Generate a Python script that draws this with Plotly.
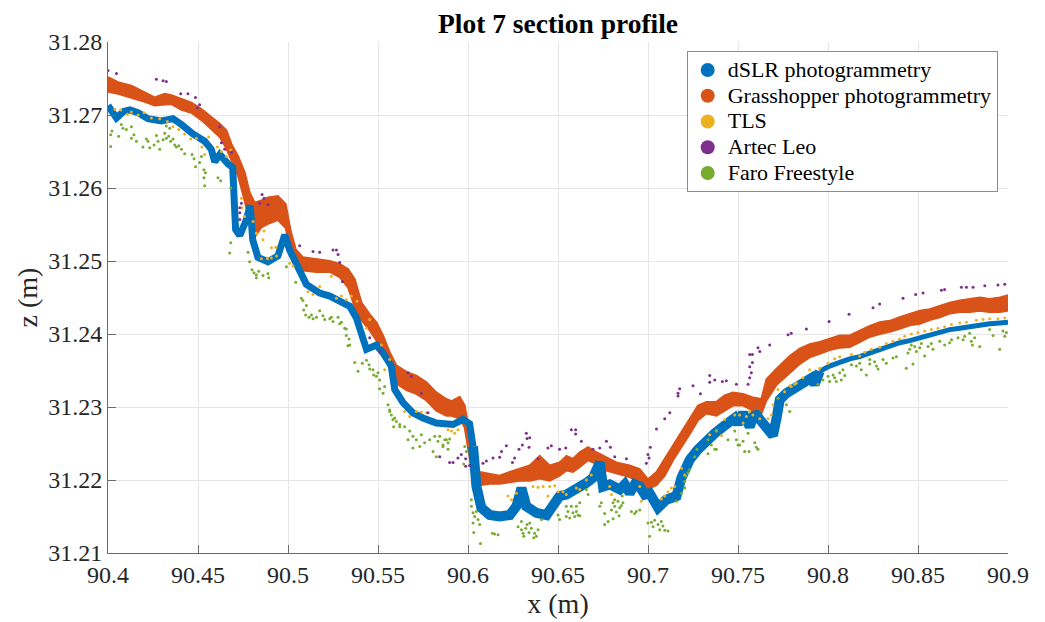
import plotly.graph_objects as go

# ---------------- data (x in m, z in m) ----------------
# dSLR photogrammetry: centre of the dense band
dslr = [
    (90.4000, 31.2713), (90.4047, 31.2696), (90.4087, 31.2705), (90.4121, 31.2707),
    (90.4167, 31.2703), (90.4222, 31.2695), (90.4297, 31.2692), (90.4361, 31.2695),
    (90.4408, 31.2687), (90.4472, 31.2674), (90.4537, 31.2664), (90.4574, 31.2653),
    (90.4593, 31.2636), (90.4621, 31.2646), (90.4667, 31.2633), (90.4693, 31.2628),
    (90.4701, 31.2584), (90.4709, 31.2543), (90.4732, 31.2535), (90.4765, 31.2554),
    (90.4790, 31.2576), (90.4804, 31.2529), (90.4833, 31.2505), (90.4889, 31.2499),
    (90.4944, 31.2507), (90.4982, 31.2536), (90.5009, 31.2515), (90.5065, 31.2488),
    (90.5102, 31.2468), (90.5176, 31.2456), (90.5232, 31.2452), (90.5287, 31.2445),
    (90.5343, 31.2438), (90.5380, 31.2422), (90.5417, 31.2388), (90.5436, 31.2379),
    (90.5491, 31.2385), (90.5528, 31.2374), (90.5574, 31.2356), (90.5593, 31.2324),
    (90.5639, 31.2306), (90.5694, 31.2292), (90.5750, 31.2285), (90.5824, 31.2278),
    (90.5917, 31.2276), (90.5972, 31.2283), (90.6009, 31.2277), (90.6028, 31.2246),
    (90.6047, 31.2191), (90.6074, 31.2162), (90.6121, 31.2152), (90.6176, 31.2150),
    (90.6232, 31.2152), (90.6269, 31.2164), (90.6297, 31.2189), (90.6324, 31.2164),
    (90.6380, 31.2155), (90.6436, 31.2152), (90.6472, 31.2164), (90.6509, 31.2178),
    (90.6547, 31.2180), (90.6583, 31.2184), (90.6621, 31.2191), (90.6658, 31.2196),
    (90.6694, 31.2203), (90.6732, 31.2224), (90.6750, 31.2191), (90.6787, 31.2194),
    (90.6843, 31.2187), (90.6871, 31.2194), (90.6898, 31.2182), (90.6926, 31.2194),
    (90.6954, 31.2191), (90.6982, 31.2180), (90.7009, 31.2182), (90.7056, 31.2162),
    (90.7102, 31.2173), (90.7158, 31.2178), (90.7186, 31.2203), (90.7232, 31.2228),
    (90.7278, 31.2242), (90.7324, 31.2255), (90.7371, 31.2264), (90.7417, 31.2273),
    (90.7454, 31.2278), (90.7482, 31.2285), (90.7500, 31.2277), (90.7528, 31.2292),
    (90.7565, 31.2273), (90.7593, 31.2292), (90.7621, 31.2283), (90.7658, 31.2271),
    (90.7694, 31.2261), (90.7713, 31.2283), (90.7732, 31.2310), (90.7769, 31.2319),
    (90.7824, 31.2326), (90.7871, 31.2333), (90.7909, 31.2340), (90.7926, 31.2331),
    (90.7954, 31.2349), (90.8009, 31.2356), (90.8065, 31.2361), (90.8121, 31.2366),
    (90.8176, 31.2369), (90.8232, 31.2374), (90.8287, 31.2379), (90.8343, 31.2383),
    (90.8398, 31.2388), (90.8454, 31.2391), (90.8510, 31.2395), (90.8565, 31.2399),
    (90.8621, 31.2402), (90.8676, 31.2406), (90.8732, 31.2408), (90.8787, 31.2410),
    (90.8843, 31.2413), (90.8898, 31.2414), (90.8954, 31.2415), (90.9000, 31.2416),
]

# Grasshopper photogrammetry: (x, top of band, bottom of band)
grasshopper = [
    (90.4000, 31.2752, 31.2732), (90.4056, 31.2745, 31.2729), (90.4130, 31.2740, 31.2724),
    (90.4204, 31.2731, 31.2718), (90.4259, 31.2724, 31.2713), (90.4315, 31.2729, 31.2714),
    (90.4352, 31.2727, 31.2715), (90.4408, 31.2722, 31.2707), (90.4463, 31.2717, 31.2703),
    (90.4519, 31.2708, 31.2693), (90.4574, 31.2697, 31.2681), (90.4621, 31.2688, 31.2670),
    (90.4658, 31.2679, 31.2654), (90.4686, 31.2660, 31.2638), (90.4722, 31.2644, 31.2617),
    (90.4759, 31.2622, 31.2583), (90.4787, 31.2594, 31.2551), (90.4815, 31.2580, 31.2533),
    (90.4852, 31.2583, 31.2546), (90.4889, 31.2587, 31.2551), (90.4944, 31.2589, 31.2556),
    (90.4987, 31.2578, 31.2545), (90.5015, 31.2541, 31.2514), (90.5043, 31.2516, 31.2494),
    (90.5083, 31.2505, 31.2487), (90.5158, 31.2503, 31.2485), (90.5232, 31.2500, 31.2485),
    (90.5287, 31.2496, 31.2478), (90.5333, 31.2489, 31.2464), (90.5371, 31.2475, 31.2437),
    (90.5408, 31.2443, 31.2419), (90.5454, 31.2427, 31.2405), (90.5491, 31.2416, 31.2391),
    (90.5528, 31.2398, 31.2373), (90.5565, 31.2375, 31.2355), (90.5602, 31.2357, 31.2332),
    (90.5658, 31.2348, 31.2323), (90.5713, 31.2343, 31.2318), (90.5769, 31.2334, 31.2309),
    (90.5824, 31.2320, 31.2295), (90.5880, 31.2311, 31.2288), (90.5909, 31.2308, 31.2288),
    (90.5954, 31.2314, 31.2284), (90.5982, 31.2302, 31.2272), (90.6009, 31.2261, 31.2231),
    (90.6037, 31.2220, 31.2199), (90.6065, 31.2211, 31.2193), (90.6121, 31.2208, 31.2195),
    (90.6176, 31.2206, 31.2195), (90.6232, 31.2211, 31.2197), (90.6287, 31.2215, 31.2199),
    (90.6343, 31.2220, 31.2199), (90.6398, 31.2233, 31.2202), (90.6454, 31.2220, 31.2199),
    (90.6509, 31.2224, 31.2206), (90.6547, 31.2233, 31.2213), (90.6583, 31.2229, 31.2211),
    (90.6621, 31.2238, 31.2218), (90.6667, 31.2245, 31.2227), (90.6713, 31.2238, 31.2222),
    (90.6769, 31.2231, 31.2213), (90.6824, 31.2224, 31.2209), (90.6898, 31.2220, 31.2204),
    (90.6954, 31.2215, 31.2197), (90.7000, 31.2201, 31.2188), (90.7047, 31.2211, 31.2193),
    (90.7093, 31.2229, 31.2206), (90.7139, 31.2247, 31.2227), (90.7186, 31.2265, 31.2245),
    (90.7232, 31.2284, 31.2263), (90.7278, 31.2302, 31.2282), (90.7324, 31.2307, 31.2291),
    (90.7380, 31.2307, 31.2288), (90.7426, 31.2316, 31.2295), (90.7472, 31.2320, 31.2302),
    (90.7528, 31.2318, 31.2302), (90.7583, 31.2313, 31.2295), (90.7630, 31.2311, 31.2291),
    (90.7658, 31.2338, 31.2309), (90.7713, 31.2352, 31.2330), (90.7787, 31.2370, 31.2347),
    (90.7843, 31.2380, 31.2359), (90.7898, 31.2386, 31.2368), (90.7954, 31.2389, 31.2373),
    (90.8009, 31.2393, 31.2378), (90.8065, 31.2398, 31.2381), (90.8121, 31.2398, 31.2382),
    (90.8176, 31.2405, 31.2389), (90.8232, 31.2411, 31.2396), (90.8287, 31.2416, 31.2400),
    (90.8343, 31.2418, 31.2403), (90.8398, 31.2423, 31.2407), (90.8454, 31.2427, 31.2412),
    (90.8510, 31.2432, 31.2414), (90.8565, 31.2434, 31.2419), (90.8621, 31.2439, 31.2423),
    (90.8676, 31.2443, 31.2428), (90.8732, 31.2446, 31.2430), (90.8787, 31.2448, 31.2430),
    (90.8843, 31.2450, 31.2432), (90.8898, 31.2448, 31.2430), (90.8954, 31.2450, 31.2430),
    (90.9000, 31.2453, 31.2432),
]

tls = [
    (90.4038, 31.2708), (90.4071, 31.2707), (90.4108, 31.2701), (90.4130, 31.2704),
    (90.4167, 31.2700), (90.4200, 31.2703), (90.4241, 31.2696), (90.4287, 31.2695),
    (90.4330, 31.2691), (90.4361, 31.2684), (90.4393, 31.2680), (90.4426, 31.2674),
    (90.4459, 31.2667), (90.4491, 31.2668), (90.4522, 31.2656), (90.4537, 31.2646),
    (90.4559, 31.2670), (90.4608, 31.2656), (90.4630, 31.2650), (90.4658, 31.2643),
    (90.4682, 31.2652), (90.4741, 31.2586), (90.4744, 31.2573), (90.4759, 31.2561),
    (90.4806, 31.2554), (90.4824, 31.2538), (90.4861, 31.2529), (90.4852, 31.2503),
    (90.4886, 31.2503), (90.4908, 31.2504), (90.4936, 31.2507), (90.4867, 31.2541),
    (90.4908, 31.2518), (90.4932, 31.2519), (90.5009, 31.2497), (90.5028, 31.2493),
    (90.5111, 31.2458), (90.5139, 31.2454), (90.5176, 31.2465), (90.5241, 31.2479),
    (90.5269, 31.2449), (90.5297, 31.2452), (90.5324, 31.2447), (90.5352, 31.2452),
    (90.5383, 31.2445), (90.5436, 31.2408), (90.5454, 31.2420), (90.5519, 31.2385),
    (90.5537, 31.2351), (90.5565, 31.2365), (90.5648, 31.2294), (90.5713, 31.2294),
    (90.5741, 31.2293), (90.5676, 31.2287), (90.5769, 31.2292), (90.5889, 31.2269),
    (90.5908, 31.2267), (90.5926, 31.2264), (90.5944, 31.2269), (90.6222, 31.2178),
    (90.6241, 31.2173), (90.6269, 31.2182), (90.6361, 31.2191), (90.6389, 31.2190),
    (90.6417, 31.2191), (90.6444, 31.2178), (90.6454, 31.2191), (90.6482, 31.2192),
    (90.6500, 31.2184), (90.6528, 31.2184), (90.6546, 31.2180), (90.6602, 31.2189),
    (90.6621, 31.2187), (90.6658, 31.2200), (90.6685, 31.2207), (90.6797, 31.2180),
    (90.6787, 31.2191), (90.6954, 31.2191), (90.6963, 31.2171), (90.7074, 31.2174),
    (90.7093, 31.2178), (90.7111, 31.2184), (90.7130, 31.2189), (90.7148, 31.2191),
    (90.7186, 31.2216), (90.7204, 31.2207), (90.7343, 31.2262), (90.7380, 31.2267),
    (90.7408, 31.2261), (90.7426, 31.2283), (90.7482, 31.2289), (90.7509, 31.2289),
    (90.7528, 31.2278), (90.7547, 31.2287), (90.7565, 31.2294), (90.7583, 31.2289),
    (90.7621, 31.2284), (90.7667, 31.2284), (90.7685, 31.2289), (90.7694, 31.2303),
    (90.7722, 31.2324), (90.7759, 31.2321), (90.7787, 31.2329), (90.7815, 31.2331),
    (90.7796, 31.2328), (90.7824, 31.2333), (90.7861, 31.2340), (90.7898, 31.2351),
    (90.7954, 31.2353), (90.8000, 31.2360), (90.8037, 31.2366), (90.8065, 31.2369),
    (90.8130, 31.2372), (90.8176, 31.2370), (90.8204, 31.2375), (90.8241, 31.2379),
    (90.8287, 31.2382), (90.8324, 31.2387), (90.8361, 31.2390), (90.8398, 31.2393),
    (90.8426, 31.2397), (90.8463, 31.2400), (90.8500, 31.2402), (90.8537, 31.2404),
    (90.8574, 31.2406), (90.8611, 31.2408), (90.8648, 31.2410), (90.8686, 31.2413),
    (90.8732, 31.2415), (90.8769, 31.2416), (90.8824, 31.2419), (90.8861, 31.2420),
    (90.8898, 31.2421), (90.8944, 31.2421), (90.8982, 31.2422),
]

artec = [
    (90.4000, 31.2761), (90.4047, 31.2757), (90.4269, 31.2749), (90.4306, 31.2747),
    (90.4324, 31.2746), (90.4404, 31.2729), (90.4444, 31.2729), (90.4486, 31.2724),
    (90.4509, 31.2714), (90.4497, 31.2710), (90.4621, 31.2684), (90.4630, 31.2662),
    (90.4648, 31.2653), (90.4686, 31.2649), (90.4732, 31.2573), (90.4732, 31.2566),
    (90.4732, 31.2557), (90.4741, 31.2579), (90.4856, 31.2591), (90.4867, 31.2586),
    (90.4889, 31.2577), (90.4843, 31.2579), (90.5065, 31.2521), (90.5139, 31.2513),
    (90.5176, 31.2512), (90.5250, 31.2515), (90.5269, 31.2515), (90.5278, 31.2509),
    (90.5287, 31.2498), (90.5302, 31.2472), (90.5454, 31.2395), (90.5509, 31.2376),
    (90.5667, 31.2347), (90.5685, 31.2342), (90.5741, 31.2319), (90.5778, 31.2292),
    (90.5843, 31.2232), (90.5898, 31.2224), (90.5917, 31.2224), (90.5944, 31.2230),
    (90.5963, 31.2235), (90.5987, 31.2229), (90.5987, 31.2219), (90.6009, 31.2220),
    (90.6083, 31.2223), (90.6102, 31.2226), (90.6139, 31.2230), (90.6176, 31.2231),
    (90.6186, 31.2239), (90.6213, 31.2247), (90.6247, 31.2224), (90.6259, 31.2230),
    (90.6283, 31.2242), (90.6302, 31.2248), (90.6324, 31.2264), (90.6328, 31.2257),
    (90.6343, 31.2258), (90.6339, 31.2245), (90.6389, 31.2229), (90.6444, 31.2244),
    (90.6463, 31.2247), (90.6509, 31.2242), (90.6543, 31.2244), (90.6574, 31.2269),
    (90.6598, 31.2269), (90.6598, 31.2263), (90.6630, 31.2253), (90.6694, 31.2242),
    (90.6732, 31.2244), (90.6769, 31.2253), (90.6791, 31.2245), (90.6815, 31.2232),
    (90.6880, 31.2229), (90.6991, 31.2223), (90.7000, 31.2235), (90.7006, 31.2230),
    (90.7013, 31.2245), (90.7047, 31.2270), (90.7093, 31.2284), (90.7121, 31.2292),
    (90.7167, 31.2319), (90.7167, 31.2315), (90.7176, 31.2325), (90.7250, 31.2329),
    (90.7291, 31.2318), (90.7343, 31.2343), (90.7343, 31.2334), (90.7371, 31.2337),
    (90.7413, 31.2335), (90.7435, 31.2336), (90.7491, 31.2331), (90.7556, 31.2331),
    (90.7565, 31.2355), (90.7580, 31.2361), (90.7574, 31.2347), (90.7565, 31.2340),
    (90.7565, 31.2372), (90.7580, 31.2372), (90.7611, 31.2381), (90.7621, 31.2376),
    (90.7676, 31.2385), (90.7778, 31.2399), (90.7796, 31.2401), (90.7880, 31.2407),
    (90.8006, 31.2417), (90.8117, 31.2427), (90.8250, 31.2436), (90.8287, 31.2441),
    (90.8417, 31.2449), (90.8487, 31.2454), (90.8528, 31.2456), (90.8630, 31.2460),
    (90.8648, 31.2461), (90.8741, 31.2464), (90.8769, 31.2464), (90.8806, 31.2464),
    (90.8871, 31.2466), (90.8944, 31.2467), (90.8982, 31.2468),
]

faro = [
    (90.4022, 31.2678), (90.4015, 31.2673), (90.4015, 31.2657), (90.4059, 31.2671),
    (90.4074, 31.2687), (90.4083, 31.2682), (90.4102, 31.2680), (90.4130, 31.2684),
    (90.4130, 31.2668), (90.4144, 31.2673), (90.4158, 31.2664), (90.4194, 31.2656),
    (90.4213, 31.2667), (90.4222, 31.2664), (90.4232, 31.2655), (90.4256, 31.2659),
    (90.4269, 31.2672), (90.4278, 31.2664), (90.4287, 31.2653), (90.4306, 31.2666),
    (90.4315, 31.2675), (90.4324, 31.2668), (90.4337, 31.2671), (90.4348, 31.2664),
    (90.4361, 31.2667), (90.4371, 31.2659), (90.4380, 31.2656), (90.4393, 31.2658),
    (90.4408, 31.2653), (90.4426, 31.2647), (90.4343, 31.2682), (90.4324, 31.2685),
    (90.4467, 31.2646), (90.4478, 31.2640), (90.4486, 31.2629), (90.4509, 31.2635),
    (90.4519, 31.2643), (90.4533, 31.2625), (90.4541, 31.2621), (90.4533, 31.2614),
    (90.4537, 31.2603), (90.4611, 31.2614), (90.4626, 31.2610), (90.4682, 31.2600),
    (90.4682, 31.2525), (90.4676, 31.2511), (90.4778, 31.2512), (90.4787, 31.2499),
    (90.4800, 31.2488), (90.4811, 31.2484), (90.4824, 31.2481), (90.4837, 31.2486),
    (90.4861, 31.2480), (90.4889, 31.2483), (90.4893, 31.2477), (90.4824, 31.2477),
    (90.4991, 31.2492), (90.5043, 31.2471), (90.5074, 31.2449), (90.5083, 31.2446),
    (90.5087, 31.2433), (90.5102, 31.2439), (90.5098, 31.2426), (90.5117, 31.2423),
    (90.5130, 31.2426), (90.5139, 31.2421), (90.5158, 31.2423), (90.5176, 31.2432),
    (90.5194, 31.2425), (90.5204, 31.2420), (90.5232, 31.2421), (90.5241, 31.2423),
    (90.5250, 31.2417), (90.5278, 31.2423), (90.5287, 31.2414), (90.5297, 31.2416),
    (90.5315, 31.2408), (90.5324, 31.2407), (90.5324, 31.2398), (90.5339, 31.2393),
    (90.5343, 31.2385), (90.5333, 31.2384), (90.5371, 31.2361), (90.5389, 31.2349),
    (90.5413, 31.2360), (90.5436, 31.2364), (90.5450, 31.2358), (90.5454, 31.2352),
    (90.5472, 31.2351), (90.5476, 31.2344), (90.5491, 31.2342), (90.5500, 31.2347),
    (90.5509, 31.2337), (90.5537, 31.2328), (90.5509, 31.2325), (90.5528, 31.2319),
    (90.5556, 31.2303), (90.5565, 31.2294), (90.5574, 31.2289), (90.5583, 31.2283),
    (90.5602, 31.2280), (90.5587, 31.2273), (90.5621, 31.2273), (90.5565, 31.2296),
    (90.5593, 31.2285), (90.5621, 31.2276), (90.5648, 31.2273), (90.5676, 31.2267),
    (90.5694, 31.2260), (90.5713, 31.2255), (90.5741, 31.2262), (90.5759, 31.2251),
    (90.5787, 31.2255), (90.5815, 31.2260), (90.5833, 31.2253), (90.5861, 31.2246),
    (90.5880, 31.2255), (90.5889, 31.2242), (90.5667, 31.2255), (90.5732, 31.2246),
    (90.5694, 31.2244), (90.5806, 31.2239), (90.5824, 31.2232), (90.5843, 31.2260),
    (90.5871, 31.2255), (90.5889, 31.2251), (90.5861, 31.2248), (90.5898, 31.2256),
    (90.5982, 31.2246), (90.5991, 31.2239), (90.5976, 31.2222), (90.6019, 31.2173),
    (90.6019, 31.2164), (90.6028, 31.2155), (90.6037, 31.2150), (90.6047, 31.2157),
    (90.6028, 31.2141), (90.6056, 31.2146), (90.6065, 31.2139), (90.6032, 31.2128),
    (90.6069, 31.2113), (90.6136, 31.2127), (90.6167, 31.2125), (90.6148, 31.2126),
    (90.6278, 31.2136), (90.6297, 31.2132), (90.6306, 31.2127), (90.6321, 31.2134),
    (90.6328, 31.2139), (90.6343, 31.2141), (90.6352, 31.2134), (90.6310, 31.2123),
    (90.6339, 31.2128), (90.6370, 31.2127), (90.6389, 31.2132), (90.6365, 31.2121),
    (90.6297, 31.2143), (90.6408, 31.2146), (90.6380, 31.2123), (90.6500, 31.2152),
    (90.6509, 31.2146), (90.6546, 31.2164), (90.6555, 31.2157), (90.6574, 31.2164),
    (90.6583, 31.2155), (90.6602, 31.2157), (90.6611, 31.2152), (90.6602, 31.2164),
    (90.6621, 31.2169), (90.6546, 31.2150), (90.6565, 31.2148), (90.6593, 31.2150),
    (90.6621, 31.2151), (90.6658, 31.2187), (90.6667, 31.2180), (90.6732, 31.2164),
    (90.6741, 31.2169), (90.6759, 31.2154), (90.6797, 31.2159), (90.6806, 31.2169),
    (90.6815, 31.2173), (90.6759, 31.2139), (90.6778, 31.2143), (90.6815, 31.2164),
    (90.6833, 31.2171), (90.6843, 31.2162), (90.6852, 31.2165), (90.6824, 31.2156),
    (90.6839, 31.2151), (90.6806, 31.2147), (90.6857, 31.2178), (90.6861, 31.2169),
    (90.6908, 31.2157), (90.6926, 31.2154), (90.6935, 31.2157), (90.6954, 31.2159),
    (90.7000, 31.2141), (90.7019, 31.2142), (90.7037, 31.2145), (90.7056, 31.2139),
    (90.7074, 31.2143), (90.7083, 31.2137), (90.7065, 31.2132), (90.7093, 31.2131),
    (90.7111, 31.2130), (90.7009, 31.2123), (90.7028, 31.2136), (90.7158, 31.2171),
    (90.7186, 31.2182), (90.7204, 31.2189), (90.7213, 31.2205), (90.7222, 31.2210),
    (90.7232, 31.2214), (90.7204, 31.2198), (90.7259, 31.2232), (90.7272, 31.2242),
    (90.7333, 31.2255), (90.7352, 31.2248), (90.7371, 31.2242), (90.7333, 31.2236),
    (90.7380, 31.2268), (90.7444, 31.2255), (90.7482, 31.2267), (90.7491, 31.2255),
    (90.7500, 31.2248), (90.7528, 31.2253), (90.7537, 31.2239), (90.7593, 31.2251),
    (90.7602, 31.2245), (90.7611, 31.2242), (90.7556, 31.2264), (90.7561, 31.2239),
    (90.7380, 31.2242), (90.7509, 31.2248), (90.7722, 31.2312), (90.7769, 31.2303),
    (90.7787, 31.2294), (90.7944, 31.2331), (90.7972, 31.2337), (90.8000, 31.2342),
    (90.8009, 31.2335), (90.8028, 31.2344), (90.8037, 31.2340), (90.8046, 31.2335),
    (90.8065, 31.2347), (90.8074, 31.2337), (90.8083, 31.2351), (90.8093, 31.2343),
    (90.8130, 31.2358), (90.8158, 31.2356), (90.8176, 31.2360), (90.8185, 31.2351),
    (90.8213, 31.2344), (90.8232, 31.2359), (90.8232, 31.2365), (90.8259, 31.2362),
    (90.8269, 31.2356), (90.8278, 31.2352), (90.8306, 31.2365), (90.8324, 31.2360),
    (90.8361, 31.2367), (90.8380, 31.2369), (90.8435, 31.2353), (90.8444, 31.2374),
    (90.8454, 31.2379), (90.8463, 31.2385), (90.8482, 31.2383), (90.8491, 31.2376),
    (90.8472, 31.2359), (90.8510, 31.2381), (90.8519, 31.2387), (90.8537, 31.2370),
    (90.8556, 31.2383), (90.8574, 31.2387), (90.8583, 31.2379), (90.8621, 31.2390),
    (90.8648, 31.2385), (90.8676, 31.2388), (90.8686, 31.2392), (90.8722, 31.2395),
    (90.8750, 31.2392), (90.8759, 31.2397), (90.8787, 31.2401), (90.8796, 31.2390),
    (90.8802, 31.2385), (90.8815, 31.2395), (90.8843, 31.2383), (90.8898, 31.2406),
    (90.8917, 31.2398), (90.8954, 31.2379), (90.8972, 31.2404), (90.8982, 31.2397),
    (90.8991, 31.2402),
]

series_names = ["dSLR photogrammetry", "Grasshopper photogrammetry", "TLS",
                "Artec Leo", "Faro Freestyle"]
x_tick_values = [90.4, 90.45, 90.5, 90.55, 90.6, 90.65, 90.7, 90.75, 90.8, 90.85, 90.9]
x_tick_labels = ["90.4", "90.45", "90.5", "90.55", "90.6", "90.65", "90.7",
                 "90.75", "90.8", "90.85", "90.9"]
z_tick_values = [31.21, 31.22, 31.23, 31.24, 31.25, 31.26, 31.27, 31.28]
z_tick_labels = ["31.21", "31.22", "31.23", "31.24", "31.25", "31.26", "31.27", "31.28"]

# ---------------- styling ----------------
BLUE = "#0072BD"
ORANGE = "#D95319"
YELLOW = "#EDB120"
PURPLE = "#7E2F8E"
GREEN = "#77AC30"
FONT = "Liberation Serif"
AXIS = "#6b6b6b"
GRID = "#e6e6e6"
TXT = "#262626"

fig = go.Figure()

# Grasshopper band (filled between top and bottom edges)
gx = [p[0] for p in grasshopper]
gt = [p[1] for p in grasshopper]
gb = [p[2] for p in grasshopper]
fig.add_trace(go.Scatter(x=gx + gx[::-1], y=gt + gb[::-1], mode="lines", fill="toself",
                         fillcolor=ORANGE, line=dict(color=ORANGE, width=2),
                         showlegend=False, hoverinfo="skip"))
fig.add_trace(go.Scatter(x=gx, y=[(a + b) / 2 for a, b in zip(gt, gb)], mode="lines",
                         line=dict(color=ORANGE, width=5), showlegend=False, hoverinfo="skip"))

# dSLR band, drawn in three stretches of differing band thickness
dx = [p[0] for p in dslr]
dz = [p[1] for p in dslr]
i1 = next(i for i, v in enumerate(dx) if v >= 90.6028)
i2 = next(i for i, v in enumerate(dx) if v >= 90.795)
for a, b, w in ((0, i1, 7), (i1, i2, 10), (i2, len(dx) - 1, 5)):
    fig.add_trace(go.Scatter(x=dx[a:b + 1], y=dz[a:b + 1], mode="lines",
                             line=dict(color=BLUE, width=w), showlegend=False,
                             hoverinfo="skip"))

for pts, col in ((tls, YELLOW), (artec, PURPLE), (faro, GREEN)):
    fig.add_trace(go.Scatter(x=[p[0] for p in pts], y=[p[1] for p in pts], mode="markers",
                             marker=dict(color=col, size=3, line=dict(width=0)),
                             showlegend=False, hoverinfo="skip"))

# legend entries
for name, col in zip(series_names, (BLUE, ORANGE, YELLOW, PURPLE, GREEN)):
    fig.add_trace(go.Scatter(x=[None], y=[None], mode="markers",
                             name='<span style="font-size:22px">' + name + "</span>",
                             marker=dict(color=col, size=14)))

fig.update_layout(
    width=1045, height=622,
    margin=dict(l=108, r=37, t=42, b=69),
    paper_bgcolor="white", plot_bgcolor="white",
    font=dict(family=FONT, color=TXT),
    title=dict(text="<b>Plot 7 section profile</b>", x=558 / 1045, xanchor="center",
               y=1 - 23 / 622, yanchor="middle",
               font=dict(family=FONT, size=27.5, color="black")),
    xaxis=dict(range=[90.4, 90.9], tickvals=x_tick_values, ticktext=x_tick_labels,
               ticks="inside", ticklen=8, tickcolor=AXIS, showline=True, linecolor=AXIS,
               linewidth=1, showgrid=True, gridcolor=GRID, zeroline=False,
               tickfont=dict(family=FONT, size=24, color=TXT),
               title=dict(text="x (m)", font=dict(family=FONT, size=28, color=TXT),
                          standoff=2)),
    yaxis=dict(range=[31.21, 31.28], tickvals=z_tick_values, ticktext=z_tick_labels,
               ticks="inside", ticklen=8, tickcolor=AXIS, showline=True, linecolor=AXIS,
               linewidth=1, showgrid=True, gridcolor=GRID, zeroline=False,
               tickfont=dict(family=FONT, size=24, color=TXT),
               title=dict(text="z (m)", font=dict(family=FONT, size=28, color=TXT),
                          standoff=2)),
    legend=dict(x=0.643, y=0.982, xanchor="left", yanchor="top", bgcolor="white",
                bordercolor="#8c8c8c", borderwidth=1,
                font=dict(family=FONT, size=17.5, color="black"), tracegroupgap=0),
)

fig.write_html("out.html")
